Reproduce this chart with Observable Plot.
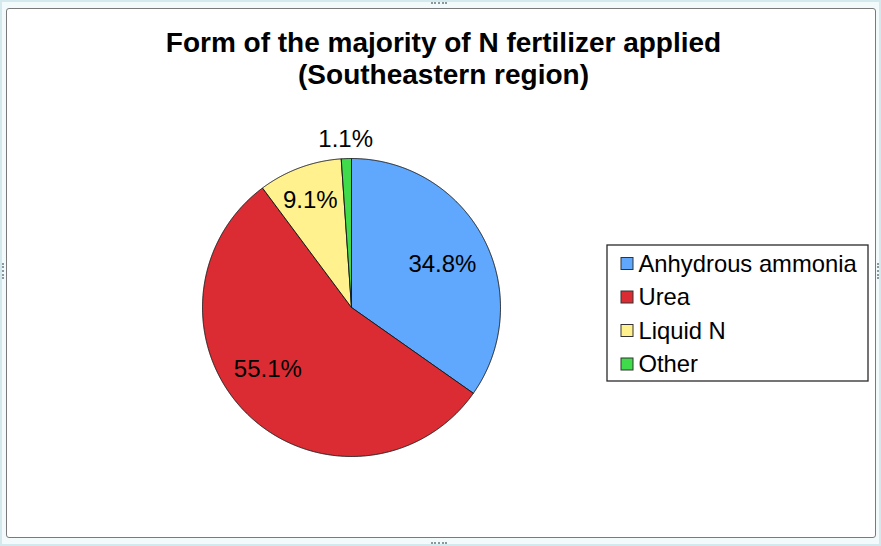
<!DOCTYPE html>
<html>
<head>
<meta charset="utf-8">
<script src="https://cdn.jsdelivr.net/npm/d3@7"></script>
<script src="https://cdn.jsdelivr.net/npm/@observablehq/plot@0.6"></script>
<style>
  html, body { margin: 0; padding: 0; background: #ffffff; }
  #wrap { position: relative; width: 881px; height: 546px; overflow: hidden; background: #f3fafb; }
  #outer { position: absolute; left: 0; top: 0; width: 877px; height: 542px; border: 2px solid #d3e9ed; }
  #inner { position: absolute; left: 6px; top: 8px; width: 868px; height: 528px; border: 1.5px solid #7a7a7a; background: #ffffff; border-radius: 3px; }
  .hdl { position: absolute; border: 0 dotted #8a9a9c; }
  #chart { position: absolute; left: 0; top: 0; }
</style>
</head>
<body>
<div id="wrap">
  <div id="outer"></div>
  <div id="inner"></div>
  <div class="hdl" style="left:431px;top:2px;width:16px;height:0;border-top-width:2px;"></div>
  <div class="hdl" style="left:431px;top:542px;width:16px;height:0;border-top-width:2px;"></div>
  <div class="hdl" style="left:2px;top:263px;width:0;height:16px;border-left-width:2px;"></div>
  <div class="hdl" style="left:877px;top:263px;width:0;height:16px;border-left-width:2px;"></div>
  <div id="chart"></div>
</div>
<script>
// ---- data ----
const categories = ["Anhydrous ammonia", "Urea", "Liquid N", "Other"];
const shares = [34.8, 55.1, 9.1, 1.1];
const shareLabels = ["34.8%", "55.1%", "9.1%", "1.1%"];
const colors = ["#5FA8FE", "#DC2C33", "#FFF18E", "#3FDB4A"];
const titleLines = ["Form of the majority of N fertilizer applied", "(Southeastern region)"];

// ---- layout ----
const W = 881, H = 546;
const cx = 351, cy = 307, R = 149;
const labelRadius = {"Anhydrous ammonia": 0.68, "Urea": 0.68, "Liquid N": 0.68, "Other": 1.13};
const labelNudge = {"Anhydrous ammonia": [1, 3], "Urea": [-13, -11], "Liquid N": [-6, -12], "Other": [0, 0]};
const legendBox = {x1: 607, x2: 868, y1: 245, y2: 381};
const legendRow0 = 263.5, legendStep = 33.5, swX1 = 621, swX2 = 633, swH = 12, legTextX = 638;

// ---- derived geometry ----
const arcs = d3.pie().sort(null).value(d => d)(shares);
const slicePts = [];
arcs.forEach((a, i) => {
  const cat = categories[i];
  slicePts.push({cat, x: cx, y: cy});
  const n = Math.max(2, Math.ceil((a.endAngle - a.startAngle) / 0.005) + 1);
  for (let k = 0; k < n; k++) {
    const t = a.startAngle + (a.endAngle - a.startAngle) * k / (n - 1);
    slicePts.push({cat, x: cx + R * Math.sin(t), y: cy - R * Math.cos(t)});
  }
  slicePts.push({cat, x: cx, y: cy});
});
const labels = arcs.map((a, i) => {
  const cat = categories[i];
  const m = (a.startAngle + a.endAngle) / 2;
  const r = R * labelRadius[cat];
  const [dx, dy] = labelNudge[cat];
  return {cat, text: shareLabels[i], x: cx + r * Math.sin(m) + dx, y: cy - r * Math.cos(m) + dy};
});
const legendRows = categories.map((cat, i) => ({cat, y: legendRow0 + i * legendStep}));
const titleRows = titleLines.map((t, i) => ({t, y: 43 + i * 32}));

const chart = Plot.plot({
  width: W, height: H,
  margin: 0,
  style: {background: "transparent", fontFamily: "'Liberation Sans', Arial, sans-serif", overflow: "visible"},
  x: {domain: [0, W], range: [0, W], axis: null},
  y: {domain: [0, H], range: [0, H], axis: null},
  color: {type: "ordinal", domain: categories, range: colors},
  marks: [
    Plot.line(slicePts, {x: "x", y: "y", z: "cat", fill: "cat", stroke: "#1c1c1c", strokeWidth: 1, strokeLinejoin: "round"}),
    Plot.text(labels, {x: "x", y: "y", text: "text", fontSize: 24, fill: "#000", textAnchor: "middle"}),
    Plot.text(titleRows, {x: 443, y: "y", text: "t", fontSize: 28, fontWeight: "bold", fill: "#000", textAnchor: "middle"}),
    Plot.rect([legendBox], {x1: "x1", x2: "x2", y1: "y1", y2: "y2", fill: "#fff", stroke: "#2a2a2a", strokeWidth: 1.3}),
    Plot.rect(legendRows, {x1: swX1, x2: swX2, y1: d => d.y - swH / 2, y2: d => d.y + swH / 2, fill: "cat", stroke: "#333", strokeWidth: 1}),
    Plot.text(legendRows, {x: legTextX, y: "y", text: "cat", fontSize: 23.8, fill: "#000", textAnchor: "start"})
  ]
});
document.getElementById("chart").appendChild(chart);
</script>
</body>
</html>
